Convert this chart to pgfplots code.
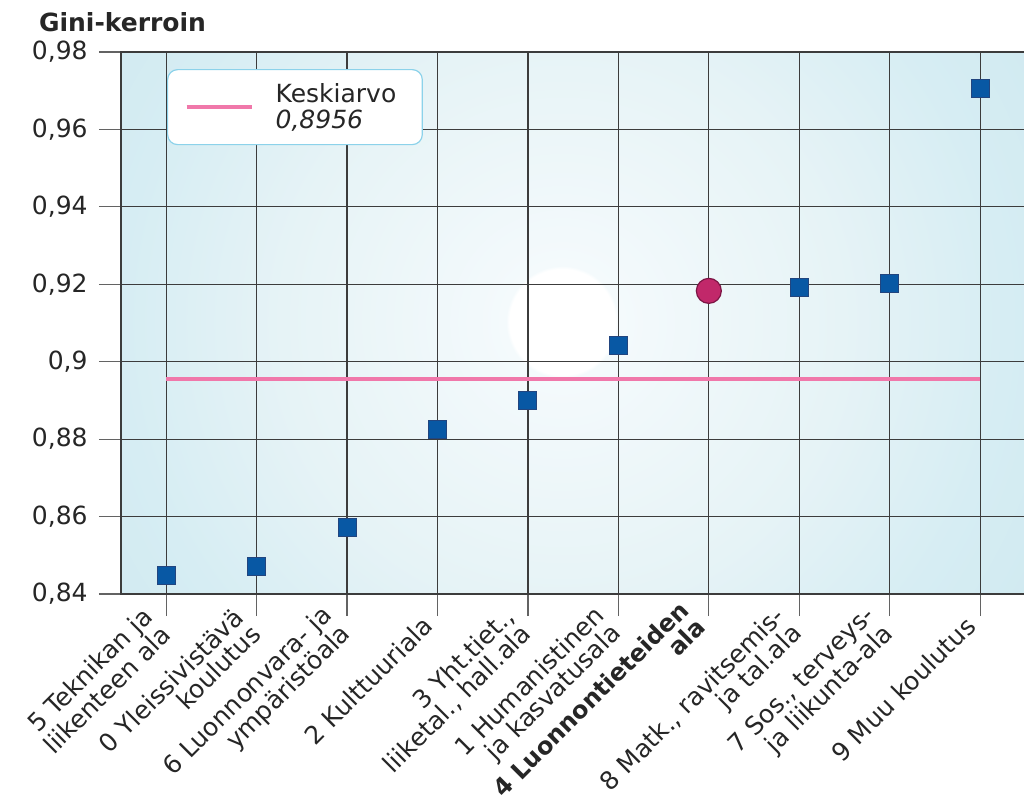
\documentclass[border=0pt]{standalone}
\usepackage{fontspec}
\setmainfont{DejaVu Sans}
\usepackage{pgfplots}
\pgfplotsset{compat=1.18}

% palette
\definecolor{glA}{RGB}{244,250,252}
\definecolor{glB}{RGB}{230,243,246}
\definecolor{glC}{RGB}{214,237,243}
\definecolor{glD}{RGB}{209,234,241}
\definecolor{gridc}{RGB}{60,60,60}
\definecolor{txt}{RGB}{38,38,38}
\definecolor{sqblue}{RGB}{8,88,164}
\definecolor{sqedge}{RGB}{34,69,127}
\definecolor{dotfill}{RGB}{193,40,106}
\definecolor{dotedge}{RGB}{124,21,69}
\definecolor{meanpink}{RGB}{240,120,170}
\definecolor{legframe}{RGB}{140,210,234}

% soft radial glow behind the plot (25bp = circle radius)
\pgfdeclareradialshading{gloss}{\pgfpoint{0bp}{0bp}}{%
  color(0bp)=(white); color(2.45bp)=(white); color(2.6bp)=(glA);
  color(13bp)=(glB); color(20.5bp)=(glC); color(25bp)=(glD); color(50bp)=(glD)}

\newcommand{\ylblfont}{\fontsize{12.5}{12}\selectfont}
\newcommand{\xlblfont}{\fontsize{12.5}{12}\selectfont}
\newcommand{\hl}{\fontsize{12}{12}\selectfont\bfseries}

\begin{document}
\begin{tikzpicture}
\path[use as bounding box] (-60.5pt,-104.5pt) rectangle (451.5pt,297pt);

\begin{axis}[
  at={(0,0)}, anchor=south west,
  scale only axis,
  width=456.7pt, height=271pt,
  xmin=-0.5, xmax=9.6,
  ymin=0.84, ymax=0.98,
  axis background/.style={
    fill=glD,
    path picture={\shade[shading=gloss]
      ([xshift=-7.75pt,yshift=0.5pt]path picture bounding box.center)
      circle[radius=270pt];}},
  xtick={0,...,9},
  xticklabels={
    {5 Teknikan ja\\liikenteen ala},
    {0 Yleissivistävä\\koulutus},
    {6 Luonnonvara- ja\\ympäristöala},
    {2 Kulttuuriala},
    {3 Yht.tiet.,\\liiketal., hall.ala},
    {1 Humanistinen\\ja kasvatusala},
    {\hl 4 Luonnontieteiden\\\hl ala\rule[-10pt]{0pt}{0pt}},
    {8 Matk., ravitsemis-\\ja tal.ala},
    {7 Sos., terveys-\\ja liikunta-ala},
    {9 Muu koulutus}},
  ytick={0.84,0.86,0.88,0.9,0.92,0.94,0.96,0.98},
  /pgf/number format/.cd, use comma, precision=2, assume math mode=true,
  /pgfplots/.cd,
  tick pos=left,
  tick align=outside,
  major tick length=11pt,
  tick style={draw=gridc!80, line width=0.6pt},
  grid=major,
  major grid style={draw=gridc, line width=0.6pt},
  axis line style={draw=gridc, line width=0.8pt},
  tick label style={text=txt},
  yticklabel style={font=\ylblfont, inner sep=2pt, xshift=-3.5pt},
  xticklabel style={font=\xlblfont, rotate=45, anchor=east, align=right,
    inner sep=1pt, xshift=-4pt, yshift=1.5pt},
  legend style={
    at={(0.0504,0.9686)}, anchor=north west,
    draw=legframe, line width=0.6pt, rounded corners=5pt, fill=white,
    inner xsep=8.5pt, inner ysep=6.75pt, text=txt,
    font=\fontsize{12.5}{13}\selectfont,
    nodes={inner sep=0pt, align=left},
    /tikz/every odd column/.append style={column sep=11pt},
  },
  legend cell align=left,
  legend image code/.code={\draw[#1] (0pt,0pt) -- (32.5pt,0pt);},
]

% mean of all fields
\addplot[meanpink, line width=2pt] coordinates {(0,0.8956) (9,0.8956)};
\addlegendentry{Keskiarvo\hspace*{4.5pt}\\\textit{0,8956}}

% fields of education
\addplot[forget plot, only marks, mark=square*, mark size=4.5pt,
  mark options={fill=sqblue, draw=sqedge, line width=0.5pt}]
  coordinates {
    (0,0.8449) (1,0.8470) (2,0.8571) (3,0.8824) (4,0.8899)
    (5,0.9043) (7,0.9191) (8,0.9201) (9,0.9705)};

% highlighted field
\addplot[forget plot, only marks, mark=*, mark size=6.25pt,
  mark options={fill=dotfill, draw=dotedge, line width=0.6pt}]
  coordinates {(6,0.9183)};
\end{axis}

\node[anchor=base west, text=txt, font=\bfseries\fontsize{12.5}{14}\selectfont]
  at (-44.5pt,281pt) {Gini-kerroin};
\end{tikzpicture}
\end{document}
